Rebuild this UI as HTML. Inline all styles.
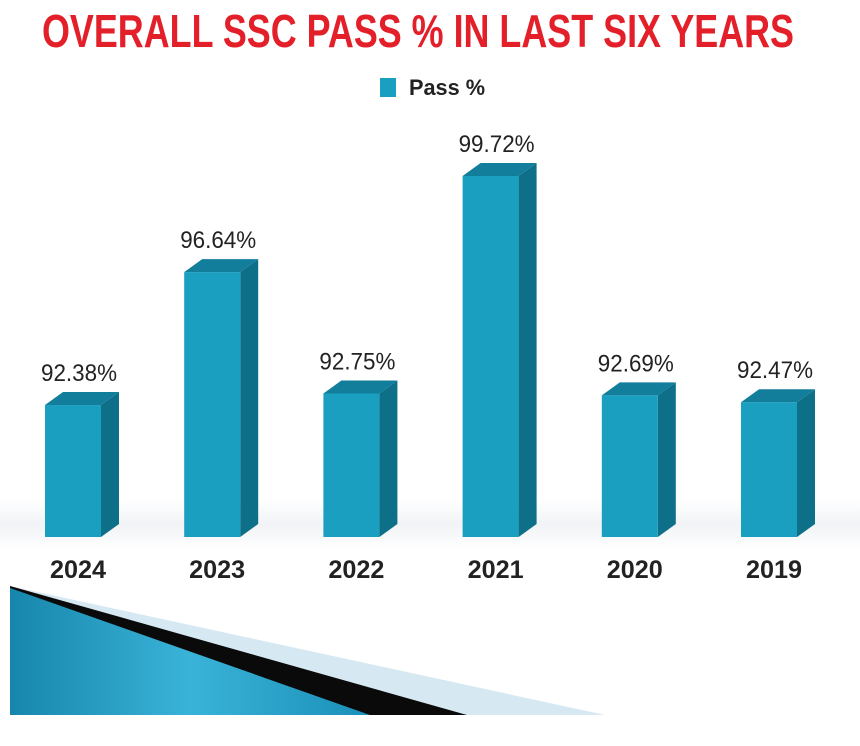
<!DOCTYPE html>
<html><head><meta charset="utf-8"><style>
html,body{margin:0;padding:0;background:#fff;}
svg{display:block;font-family:"Liberation Sans Narrow","Liberation Sans",sans-serif;}
</style></head><body>
<svg id="chart" width="860" height="746" viewBox="0 0 860 746">
<defs>
<linearGradient id="bandg" x1="0" y1="0" x2="0" y2="1"><stop offset="0" stop-color="#fff"/><stop offset="0.5" stop-color="#f1f3f6"/><stop offset="1" stop-color="#fff"/></linearGradient>
<linearGradient id="blueg" x1="0" y1="0" x2="1" y2="0"><stop offset="0" stop-color="#1786ac"/><stop offset="0.5" stop-color="#3ab3d8"/><stop offset="1" stop-color="#1a90b8"/></linearGradient>
</defs>
<rect x="0" y="500" width="860" height="50" fill="url(#bandg)"/>
<text x="418" y="47" text-anchor="middle" font-size="46" font-weight="bold" fill="#e3202a" textLength="752" lengthAdjust="spacingAndGlyphs">OVERALL SSC PASS % IN LAST SIX YEARS</text>
<g>
<rect x="380" y="78" width="16" height="19" fill="#1a9fc0"/>
<text x="409" y="95" font-size="22" font-weight="bold" fill="#222" textLength="76" lengthAdjust="spacingAndGlyphs">Pass %</text>
</g>
<g id="bars"></g>
<g>
<polygon points="10,586 605,715 10,715" fill="#d6e9f2"/>
<polygon points="10,586 467,715 10,715" fill="#0a0a0a"/>
<polygon points="10,588 370,715 10,715" fill="url(#blueg)"/>
</g>
<script>
const categories = ["2024","2023","2022","2021","2020","2019"];
const values = [92.38,96.64,92.75,99.72,92.69,92.47];
const valueLabels = ["92.38%","96.64%","92.75%","99.72%","92.69%","92.47%"];
const NS="http://www.w3.org/2000/svg";
const g=document.getElementById('bars');
const base=537, x0=45, step=139.2, bw=56, sd=18, dp=13;
function yScale(v){return base-(v-88.15)*31.2;}
function xScale(i){return x0+i*step;}
function mk(t,a){const e=document.createElementNS(NS,t);for(const k in a)e.setAttribute(k,a[k]);g.appendChild(e);return e;}
categories.forEach((c,i)=>{
  const x=xScale(i), y=yScale(values[i]);
  const side=mk('polygon',{points:`${x+bw},${y} ${x+bw+sd},${y-dp} ${x+bw+sd},${base-dp} ${x+bw},${base}`,fill:'#0e6f89'});
  
  
  const top=mk('polygon',{points:`${x},${y} ${x+sd},${y-dp} ${x+bw+sd},${y-dp} ${x+bw},${y}`,fill:'#137e9b'});
  
  
  const r=mk('rect',{x:x,y:y,width:bw,height:base-y,fill:'#1a9fc0'});
  
  
  const vl=mk('text',{x:x+bw/2+6,y:y-24,'text-anchor':'middle','font-size':'24',fill:'#222',textLength:'76',lengthAdjust:'spacingAndGlyphs'});
  vl.textContent=valueLabels[i];
  
  
  const xl=mk('text',{x:x+bw/2+5,y:578,'text-anchor':'middle','font-size':'25','font-weight':'bold',fill:'#222',textLength:'56',lengthAdjust:'spacingAndGlyphs'});
  xl.textContent=c;
  
  
});
</script>
</svg>
</body></html>
